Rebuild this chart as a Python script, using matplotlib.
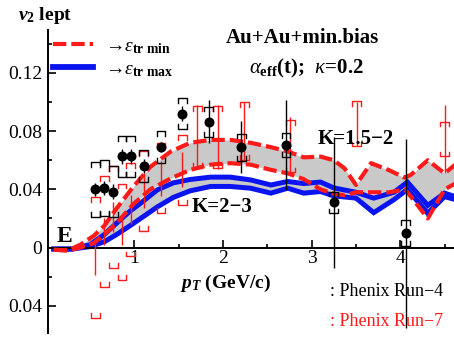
import numpy as np
import matplotlib
matplotlib.use("Agg")
import matplotlib.pyplot as plt

plt.rcParams["font.family"] = "Liberation Serif"
plt.rcParams["mathtext.fontset"] = "custom"
plt.rcParams["mathtext.rm"] = "Liberation Serif"
plt.rcParams["mathtext.it"] = "Liberation Serif:italic"
plt.rcParams["mathtext.bf"] = "Liberation Serif:bold"
plt.rcParams["mathtext.bfit"] = "Liberation Serif:bold:italic"

# model band, K = 1.5-2 (eps_tr min / eps_tr max edges)
pt_red = [0.09, 0.25, 0.39, 0.54, 0.66, 0.80, 0.99, 1.18, 1.41, 1.63, 1.86, 2.08, 2.31,
          2.54, 2.73, 2.91, 3.10, 3.25, 3.37, 3.50, 3.67, 3.88, 4.05, 4.12, 4.31, 4.50, 4.62]
v2_red_hi = [-0.0015, -0.002, 0.002, 0.008, 0.015, 0.027, 0.042, 0.0555, 0.066, 0.072, 0.074,
             0.074, 0.072, 0.069, 0.066, 0.062, 0.0625, 0.060, 0.0545, 0.043, 0.058, 0.053,
             0.048, 0.050, 0.060, 0.051, 0.057]
v2_red_lo = [-0.0015, -0.002, 0.0, 0.003, 0.009, 0.0168, 0.030, 0.040, 0.0475, 0.0534, 0.057,
             0.058, 0.057, 0.0534, 0.051, 0.047, 0.040, 0.037, 0.036, 0.038, 0.038, 0.038,
             0.040, 0.035, 0.020, 0.040, 0.044]

# model band, K = 2-3
pt_blue = [0.09, 0.30, 0.50, 0.66, 0.80, 0.95, 1.07, 1.26, 1.44, 1.63, 1.86, 2.08, 2.31,
           2.54, 2.73, 2.91, 3.10, 3.25, 3.50, 3.70, 3.93, 4.08, 4.31, 4.50, 4.62]
v2_blue_hi = [-0.001, -0.001, 0.002, 0.009, 0.0168, 0.025, 0.0305, 0.0397, 0.0445, 0.0468,
              0.0484, 0.0484, 0.0465, 0.043, 0.0454, 0.044, 0.045, 0.041, 0.038, 0.034,
              0.038, 0.045, 0.029, 0.0374, 0.035]
v2_blue_lo = [-0.001, -0.001, 0.0007, 0.004, 0.009, 0.015, 0.020, 0.028, 0.0345, 0.039,
              0.042, 0.042, 0.0408, 0.0374, 0.0408, 0.0374, 0.0385, 0.0355, 0.034, 0.024,
              0.033, 0.040, 0.0236, 0.035, 0.033]

# PHENIX Run-4
pt_run4 = [0.56, 0.66, 0.76, 0.86, 0.96, 1.105, 1.30, 1.54, 1.84, 2.205, 2.71, 3.25, 4.06]
v2_run4 = [0.040, 0.041, 0.0385, 0.0626, 0.0626, 0.056, 0.069, 0.092, 0.0866, 0.069,
           0.0706, 0.031, 0.0099]
stat_run4 = [0.0046, 0.005, 0.005, 0.0052, 0.0052, 0.005, 0.0035, 0.005, 0.015, 0.018,
             0.031, 0.045, 0.065]
syst_run4 = [0.019, 0.019, 0.0175, 0.014, 0.014, 0.011, 0.011, 0.0105, 0.0103, 0.0093,
             0.0083, 0.0075, 0.009]

# PHENIX Run-7
pt_run7 = [0.56, 0.66, 0.76, 0.86, 0.96, 1.105, 1.30, 1.54, 1.71, 1.94, 2.24, 2.76, 3.51, 4.50]
v2_run7 = [-0.007, 0.011, 0.021, 0.011, 0.026, 0.039, 0.0477, 0.0534, 0.076, 0.076, 0.080,
           0.0696, 0.085, 0.0746]
stat_run7 = [0.012, 0.009, 0.010, 0.009, 0.010, 0.012, 0.012, 0.012, 0.022, 0.022, 0.020,
             0.020, 0.015, 0.0234]
syst_run7 = [0.0415, 0.038, 0.035, 0.033, 0.032, 0.0275, 0.024, 0.024, 0.021, 0.021, 0.020,
             0.018, 0.0155, 0.012]

RED = "#ff1a1a"
BLUE = "#0a14f0"
GRAY = "#c9c9c9"


def brackets(ax, x, y, err, color, hw=0.05, tick=0.0033):
    # top cap opens downward, bottom cap opens upward
    for xi, yi, ei in zip(x, y, err):
        top, bot = yi + ei, yi - ei
        ax.plot([xi - hw, xi - hw, xi + hw, xi + hw], [top - tick, top, top, top - tick],
                color=color, lw=1.0, zorder=5)
        ax.plot([xi - hw, xi - hw, xi + hw, xi + hw], [bot + tick, bot, bot, bot + tick],
                color=color, lw=1.0, zorder=5)


W, H = 454, 338
fig = plt.figure(figsize=(W / 100, H / 100), dpi=100)
ax = fig.add_axes([48 / W, 1 - 333 / H, (W - 48) / W, (333 - 30) / H])

ax.fill_between(pt_red, v2_red_lo, v2_red_hi, color=GRAY, lw=0, zorder=1)
ax.fill_between(pt_blue, v2_blue_lo, v2_blue_hi, color=GRAY, lw=0, zorder=1)
ax.plot(pt_blue, v2_blue_hi, color=BLUE, lw=3.6, zorder=2, solid_joinstyle="miter")
ax.plot(pt_blue, v2_blue_lo, color=BLUE, lw=3.6, zorder=2, solid_joinstyle="miter")
ax.plot(pt_red, v2_red_hi, color=RED, lw=3.0, dashes=(3.2, 1.2), zorder=3)
ax.plot(pt_red, v2_red_lo, color=RED, lw=3.0, dashes=(3.2, 1.2), zorder=3)

# Run-7: stat bars + syst brackets, no markers
ax.errorbar(pt_run7, v2_run7, yerr=stat_run7, fmt="none", ecolor=RED, elinewidth=1.0,
            capsize=0, zorder=4)
brackets(ax, pt_run7, v2_run7, syst_run7, RED)

# Run-4
ax.errorbar(pt_run4, v2_run4, yerr=stat_run4, fmt="o", color="black", ms=6.2,
            elinewidth=1.0, capsize=0, zorder=6)
brackets(ax, pt_run4, v2_run4, syst_run4, "black")

ax.set_xlim(0.025, 4.606)
ax.set_ylim(-0.0587, 0.1495)

for s in ["top", "right"]:
    ax.spines[s].set_visible(False)
ax.spines["bottom"].set_position(("data", 0))
ax.spines["left"].set_linewidth(1.4)
ax.spines["bottom"].set_linewidth(1.4)

ax.set_xticks([1, 2, 3, 4])
ax.set_xticks([0.5, 1.5, 2.5, 3.5, 4.5], minor=True)
ax.set_xticklabels(["1", "2", "3", "4"])
ax.set_yticks([-0.04, 0, 0.04, 0.08, 0.12])
ax.set_yticks([-0.02, 0.02, 0.06, 0.10, 0.14], minor=True)
ax.set_yticklabels(["0.04", "0", "0.04", "0.08", "0.12"])
ax.tick_params(which="both", direction="in", width=1.2, labelsize=14)
ax.tick_params(which="major", length=6)
ax.tick_params(which="minor", length=3)
ax.tick_params(axis="x", pad=2)
ax.tick_params(axis="y", pad=4)

# legend samples
ax.plot([0.012, 0.111], [0.954, 0.954], transform=ax.transAxes, color=RED, lw=3.0,
        dashes=(3.2, 1.2), clip_on=False)
ax.plot([0.012, 0.111], [0.878, 0.878], transform=ax.transAxes, color=BLUE, lw=4.2,
        clip_on=False)


def ftext(x, y, s, **kw):
    fig.text(x / W, 1 - y / H, s, **kw)


ftext(105, 47, "\u2192" + r"$\epsilon_{\mathbf{tr\ min}}$", fontsize=14, va="center")
ftext(105, 70, "\u2192" + r"$\epsilon_{\mathbf{tr\ max}}$", fontsize=14, va="center")
ftext(18, 15, r"$\mathbfit{v}_{\mathbf{2}}$ lept", fontsize=14, fontweight="bold", va="center")
ftext(226, 283, r"$\mathbfit{p}_{\mathbfit{T}}$ (GeV/c)", fontsize=14, fontweight="bold",
      ha="center", va="center")
ftext(302, 38, "Au+Au+min.bias", fontsize=15, fontweight="bold", ha="center", va="center")
ftext(306, 68, r"$\alpha_{\mathbf{eff}}$(t);  $\kappa$=0.2", fontsize=15, fontweight="bold",
      ha="center", va="center")
ftext(356, 139, "K=1.5\u22122", fontsize=15, fontweight="bold", ha="center", va="center")
ftext(222, 207, "K=2\u22123", fontsize=15, fontweight="bold", ha="center", va="center")
ftext(64, 236, "E", fontsize=17, fontweight="bold", ha="center", va="center")
ftext(330, 292, ": Phenix Run\u22124", fontsize=13, va="center")
ftext(330, 322, ": Phenix Run\u22127", fontsize=13, va="center", color=RED)

fig.savefig("out.png", dpi=100)
